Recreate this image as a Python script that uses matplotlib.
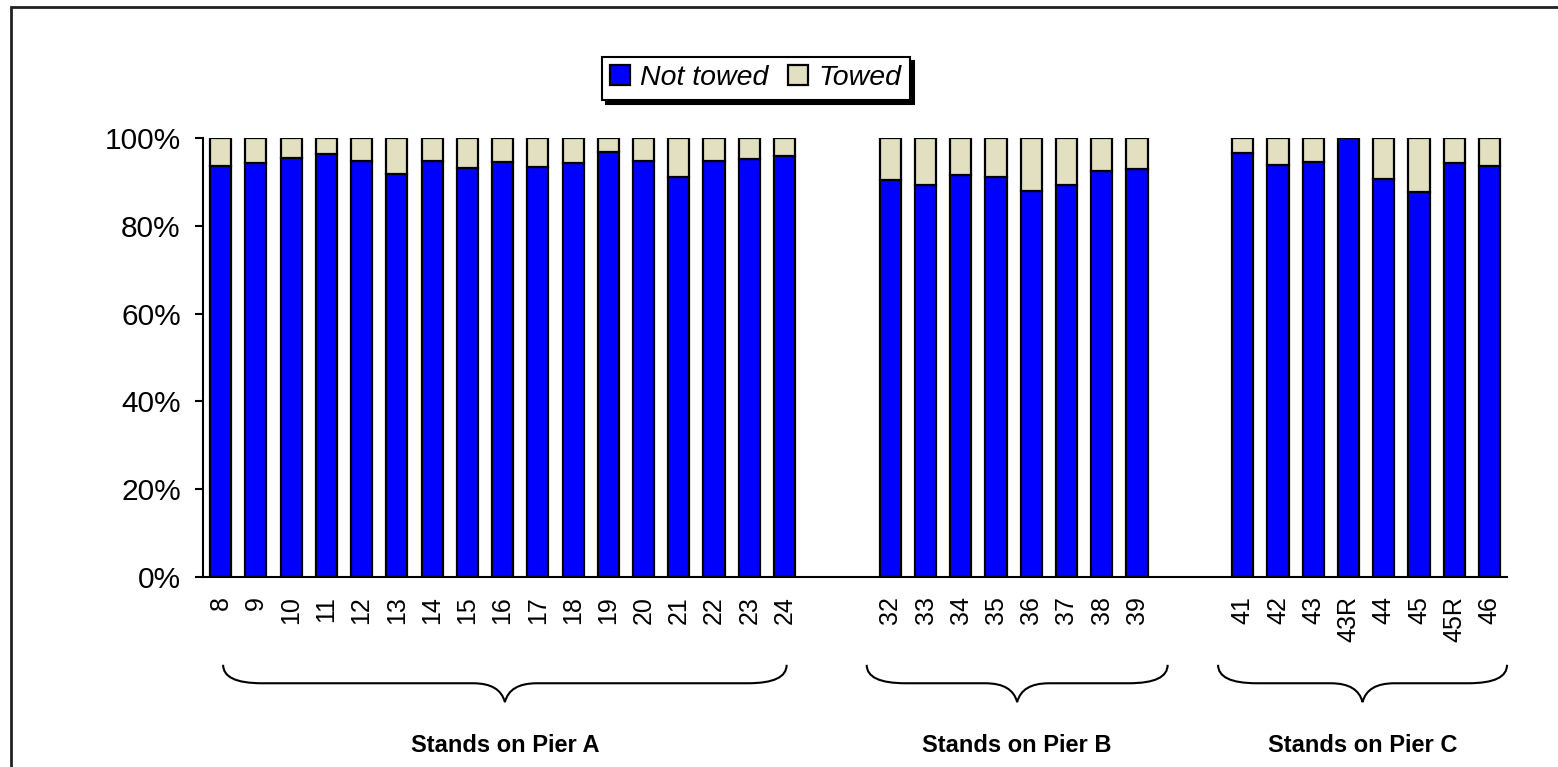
import matplotlib.pyplot as plt
from matplotlib.patches import Rectangle, PathPatch
from matplotlib.path import Path
import matplotlib.transforms as mtransforms

plt.rcParams['font.family'] = ['Liberation Sans', 'DejaVu Sans']

# data: share of movements (%) per stand
groups = ['Stands on Pier A', 'Stands on Pier B', 'Stands on Pier C']
stands_a = ['8', '9', '10', '11', '12', '13', '14', '15', '16', '17', '18', '19', '20', '21', '22', '23', '24']
stands_b = ['32', '33', '34', '35', '36', '37', '38', '39']
stands_c = ['41', '42', '43', '43R', '44', '45', '45R', '46']
not_towed_a = [93.7, 94.4, 95.5, 96.4, 94.7, 91.7, 94.8, 93.1, 94.5, 93.3, 94.2, 96.8, 94.8, 91.2, 94.7, 95.1, 95.8]
not_towed_b = [90.4, 89.2, 91.6, 91.1, 87.9, 89.3, 92.4, 92.9]
not_towed_c = [96.5, 93.9, 94.6, 100.0, 90.7, 87.7, 94.2, 93.7]

stands = [stands_a, stands_b, stands_c]
not_towed = [not_towed_a, not_towed_b, not_towed_c]

blue = '#0000FF'
beige = '#E2E0C0'

fig = plt.figure(figsize=(15.58, 7.67), dpi=100)
ax = fig.add_axes([0.1303, 0.2477, 0.837, 0.5724])

gap = 2
x = []
labels = []
nt = []
spans = []
pos = 0
for s, v in zip(stands, not_towed):
    xs = list(range(pos, pos + len(s)))
    x += xs
    labels += s
    nt += v
    spans.append((xs[0], xs[-1]))
    pos += len(s) + gap

towed = [100 - v for v in nt]

b1 = ax.bar(x, nt, width=0.6, color=blue, edgecolor='black', linewidth=1.6, label='Not towed')
b2 = ax.bar(x, towed, bottom=nt, width=0.6, color=beige, edgecolor='black', linewidth=1.6, label='Towed')

ax.set_xlim(-0.5, x[-1] + 0.5)
ax.set_ylim(0, 100)
ax.set_yticks(range(0, 101, 20))
ax.set_yticklabels([f'{t}%' for t in range(0, 101, 20)], fontsize=21.5)
ax.set_xticks(x)
ax.set_xticklabels(labels, rotation=90, fontsize=18, va='top', ha='center')
ax.tick_params(axis='x', length=0, pad=14)
ax.tick_params(axis='y', length=6, width=1.5, pad=10)
for sp in ['top', 'right']:
    ax.spines[sp].set_visible(False)
for sp in ['left', 'bottom']:
    ax.spines[sp].set_linewidth(1.5)

# braces and group labels below the axis
trans = mtransforms.blended_transform_factory(ax.transData, ax.transAxes)
brace_pad = [(0.07, 0.06), (-0.67, 0.87), (-0.7, 0.5)]
yt, ym, yb = -0.20, -0.242, -0.285
for (a, b), (pl, pr), name in zip(spans, brace_pad, groups):
    x0, x1 = a + pl, b + pr
    xm = (x0 + x1) / 2
    r, rc = 1.1, 0.9
    verts = [(x0, yt), (x0, ym), (x0 + r, ym),
             (xm - rc, ym),
             (xm - rc * 0.15, ym), (xm, yb),
             (xm + rc * 0.15, ym), (xm + rc, ym),
             (x1 - r, ym),
             (x1, ym), (x1, yt)]
    codes = [Path.MOVETO, Path.CURVE3, Path.CURVE3,
             Path.LINETO,
             Path.CURVE3, Path.CURVE3,
             Path.CURVE3, Path.CURVE3,
             Path.LINETO,
             Path.CURVE3, Path.CURVE3]
    ax.add_patch(PathPatch(Path(verts, codes), fill=False, lw=1.5, color='black',
                           transform=trans, clip_on=False))
    ax.text(xm, -0.383, name, transform=trans, ha='center', va='center',
            fontsize=17, fontweight='bold')

leg = fig.legend(handles=[b1, b2], loc='center', bbox_to_anchor=(0.485, 0.898),
                 ncol=2, frameon=True, fancybox=False, edgecolor='black',
                 shadow={'ox': 3, 'oy': -3, 'color': 'black', 'alpha': 1},
                 prop={'style': 'italic', 'size': 20.5},
                 handlelength=0.7, handleheight=0.7, handletextpad=0.35,
                 columnspacing=0.7, borderpad=0.3, borderaxespad=0)
leg.get_frame().set_linewidth(1.5)

# outer chart border
fig.patches.append(Rectangle((0.0071, -0.02), 1.05, 0.9909 + 0.02, transform=fig.transFigure,
                             fill=False, edgecolor='#222222', linewidth=2))

fig.savefig('out.png', dpi=100)
